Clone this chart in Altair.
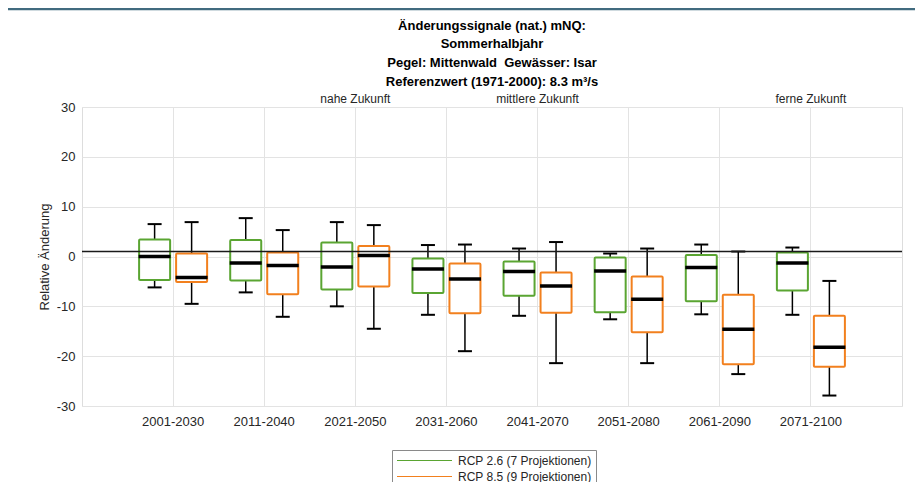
import altair as alt
import pandas as pd

periods = ["2001-2030", "2011-2040", "2021-2050", "2031-2060",
           "2041-2070", "2051-2080", "2061-2090", "2071-2100"]
scenarios = ["RCP 2.6 (7 Projektionen)", "RCP 8.5 (9 Projektionen)"]

# RCP 2.6
g_upper = [6.5, 7.7, 6.9, 2.3, 1.6, 0.6, 2.4, 1.8]
g_q3 = [3.4, 3.3, 2.8, -0.4, -1.0, -0.2, 0.3, 0.8]
g_median = [0.0, -1.3, -2.1, -2.5, -3.0, -2.9, -2.2, -1.3]
g_q1 = [-4.7, -4.8, -6.6, -7.3, -7.9, -11.2, -9.0, -6.8]
g_lower = [-6.2, -7.2, -10.0, -11.7, -11.9, -12.6, -11.6, -11.7]

# RCP 8.5
o_upper = [6.9, 5.3, 6.3, 2.4, 2.9, 1.6, 1.0, -4.9]
o_q3 = [0.6, 0.8, 2.1, -1.4, -3.2, -4.0, -7.7, -11.9]
o_median = [-4.2, -1.8, 0.2, -4.5, -5.9, -8.6, -14.6, -18.2]
o_q1 = [-5.1, -7.6, -6.0, -11.4, -11.3, -15.2, -21.6, -22.1]
o_lower = [-9.5, -12.1, -14.5, -19.0, -21.4, -21.4, -23.6, -27.9]

reference_line = [1.0]

annot_periods = ["2021-2050", "2041-2070", "2071-2100"]
annot_texts = ["nahe Zukunft", "mittlere Zukunft", "ferne Zukunft"]

title_lines = ["Änderungssignale (nat.) mNQ:", "Sommerhalbjahr",
               "Pegel: Mittenwald\u00a0 Gewässer: Isar",
               "Referenzwert (1971-2000): 8.3 m³/s"]

colors = ["#5aa532", "#f2801e"]

rows = []
for i, p in enumerate(periods):
    rows.append(dict(period=p, scenario=scenarios[0], lower=g_lower[i], q1=g_q1[i],
                     median=g_median[i], q3=g_q3[i], upper=g_upper[i]))
    rows.append(dict(period=p, scenario=scenarios[1], lower=o_lower[i], q1=o_q1[i],
                     median=o_median[i], q3=o_q3[i], upper=o_upper[i]))
df = pd.DataFrame(rows)
ann = pd.DataFrame({"period": annot_periods, "text": annot_texts})
ref = pd.DataFrame({"value": reference_line})

font = "Liberation Sans"

x_enc = alt.X("period:N", sort=periods,
              scale=alt.Scale(paddingInner=0, paddingOuter=0.5),
              axis=alt.Axis(title=None, labelAngle=0, labelFontSize=13, labelColor="#262626",
                            labelPadding=9, ticks=False, domain=False, grid=True,
                            gridColor="#e3e3e3", labelFont=font))
xo_enc = alt.XOffset("scenario:N", sort=scenarios,
                     scale=alt.Scale(paddingInner=0.162, paddingOuter=0.312))
y_scale = alt.Scale(domain=[-30, 30], nice=False)
y_axis = alt.Axis(title="Relative Änderung", values=[-30, -20, -10, 0, 10, 20, 30],
                  labelExpr="'' + datum.value",
                  labelFontSize=13, labelColor="#262626", labelPadding=7, ticks=False,
                  domain=False, grid=True, gridColor="#e3e3e3", titleFontSize=13,
                  titleFontWeight="normal", titleColor="#262626", titlePadding=5,
                  labelFont=font, titleFont=font)

base = alt.Chart(df)

whisk_lo = base.mark_rule(color="black", strokeWidth=1.5).encode(
    x=x_enc, xOffset=xo_enc, y=alt.Y("lower:Q", scale=y_scale, axis=y_axis), y2="q1:Q")
whisk_hi = base.mark_rule(color="black", strokeWidth=1.5).encode(
    x=x_enc, xOffset=xo_enc, y=alt.Y("q3:Q", scale=y_scale), y2="upper:Q")
cap_lo = base.mark_tick(color="black", size=14, thickness=2, opacity=1).encode(
    x=x_enc, xOffset=xo_enc, y=alt.Y("lower:Q", scale=y_scale))
cap_hi = base.mark_tick(color="black", size=14, thickness=2, opacity=1).encode(
    x=x_enc, xOffset=xo_enc, y=alt.Y("upper:Q", scale=y_scale))
box = base.mark_bar(fill="white", strokeWidth=2, cornerRadius=1, opacity=1).encode(
    x=x_enc, xOffset=xo_enc, y=alt.Y("q1:Q", scale=y_scale), y2="q3:Q",
    stroke=alt.Stroke("scenario:N", sort=scenarios,
                      scale=alt.Scale(domain=scenarios, range=colors),
                      legend=alt.Legend(title=None, orient="none", legendX=310, legendY=343,
                                        symbolType="M-1,0H9", symbolSize=121,
                                        symbolStrokeWidth=1.2, symbolOpacity=1,
                                        labelFontSize=12,
                                        labelFont=font, labelColor="#262626",
                                        labelOffset=49, padding=4, rowPadding=3,
                                        strokeColor="#8a8a8a", fillColor="white")))
med = base.mark_tick(color="black", size=32, thickness=3.5, opacity=1).encode(
    x=x_enc, xOffset=xo_enc, y=alt.Y("median:Q", scale=y_scale))

refline = alt.Chart(ref).mark_rule(color="#1a1a1a", strokeWidth=1.6).encode(
    y=alt.Y("value:Q", scale=y_scale))

annot = alt.Chart(ann).mark_text(fontSize=12, font=font, color="#262626",
                                 baseline="alphabetic", clip=False).encode(
    x=alt.X("period:N", sort=periods), y=alt.value(-4), text="text:N")

frame_top = alt.Chart(ref).mark_rule(color="#416b7f", strokeWidth=2.5, clip=False).encode(
    x=alt.value(-76), x2=alt.value(835), y=alt.value(-98))
frame_left = alt.Chart(ref).mark_rule(color="#416b7f", strokeWidth=2.5, clip=False).encode(
    x=alt.value(-76), y=alt.value(-98), y2=alt.value(400))

chart = alt.layer(whisk_lo, whisk_hi, cap_lo, cap_hi, box, med,
                  refline, annot, frame_top, frame_left).properties(
    width=820, height=299,
    autosize=alt.AutoSizeParams(type="none"),
    padding={"left": 74, "top": 99, "right": 13, "bottom": 76},
    title=alt.TitleParams(title_lines, fontSize=13, font=font, fontWeight="bold",
                          color="black", anchor="middle", offset=-81, lineHeight=18.7,
                          frame="group"),
).configure_view(stroke="#4d4d4d", strokeWidth=1).configure(font=font)

chart.save("out.html", embed_options={"renderer": "svg", "actions": False})
